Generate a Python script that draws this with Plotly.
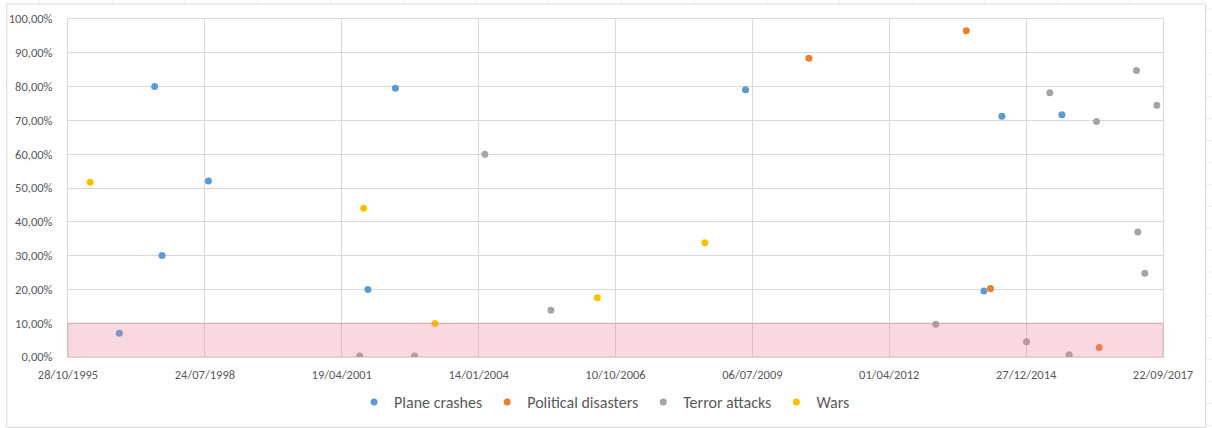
import plotly.graph_objects as go

# Event dates and scores per category
plane_dates = ["1997-07-22", "1997-09-14", "1998-08-19", "2002-05-16", "2001-10-27",
               "2009-05-17", "2014-02-22", "2014-07-03", "2015-09-14", "1996-11-06"]
plane_vals = [0.80, 0.30, 0.521, 0.795, 0.20, 0.791, 0.195, 0.712, 0.717, 0.07]

political_dates = ["2010-08-23", "2013-10-16", "2014-04-11", "2016-06-13"]
political_vals = [0.884, 0.965, 0.203, 0.028]

terror_dates = ["2004-02-29", "2005-06-25", "2001-08-28", "2002-10-03", "2013-03-07",
                "2014-12-30", "2015-11-07", "2015-06-18", "2016-05-24", "2017-03-12",
                "2017-08-08", "2017-03-22", "2017-05-12"]
terror_vals = [0.60, 0.138, 0.003, 0.003, 0.097, 0.045, 0.007, 0.782, 0.697, 0.848,
               0.745, 0.37, 0.248]

war_dates = ["1996-04-07", "2001-09-26", "2003-03-01", "2006-05-30", "2008-07-24"]
war_vals = [0.517, 0.44, 0.099, 0.175, 0.338]

series = [
    ("Plane crashes", plane_dates, plane_vals, "#5B9BD5"),
    ("Political disasters", political_dates, political_vals, "#ED7D31"),
    ("Terror attacks", terror_dates, terror_vals, "#A5A5A5"),
    ("Wars", war_dates, war_vals, "#FFC000"),
]

FONT = "Carlito, Lato, 'Open Sans', sans-serif"
TXT = "#595959"
GRID = "#d9d9d9"

fig = go.Figure()
for name, xs, ys, col in series:
    fig.add_trace(go.Scatter(
        x=xs, y=ys, mode="markers", name=name,
        marker=dict(color=col, size=7, line=dict(width=0)),
    ))

W, H = 1212, 428
ML, MR, MT, MB = 68.3, 48.7, 19, 71.3
pw, ph = W - ML - MR, H - MT - MB


def px_x(p):
    return (p - ML) / pw


def px_y(p):
    return (H - MB - p) / ph


shapes = [
    # low-score band
    dict(type="rect", xref="x domain", yref="y", x0=0, x1=1, y0=0, y1=0.10,
         fillcolor="rgba(232,128,150,0.30)", line=dict(color="rgba(205,120,140,0.45)", width=1),
         layer="above"),
    # chart frame
    dict(type="rect", xref="paper", yref="paper", x0=px_x(7), x1=px_x(1206),
         y0=px_y(427), y1=px_y(4), line=dict(color=GRID, width=1), layer="below"),
]

# sheet cell lines peeking around the frame
cx = 40.0
while cx < 1206:
    shapes.append(dict(type="line", xref="paper", yref="paper", x0=px_x(cx), x1=px_x(cx),
                       y0=px_y(0), y1=px_y(3.5), line=dict(color="#ececec", width=1)))
    cx += 72.7
cy = 9.0
while cy < 428:
    shapes.append(dict(type="line", xref="paper", yref="paper", x0=px_x(1206.5), x1=px_x(1212),
                       y0=px_y(cy), y1=px_y(cy), line=dict(color="#ececec", width=1)))
    cy += 21.9

fig.update_layout(
    width=W, height=H,
    margin=dict(l=ML, r=MR, t=MT, b=MB, pad=0, autoexpand=False),
    paper_bgcolor="white", plot_bgcolor="white",
    font=dict(family=FONT, color=TXT, size=12),
    separators=",.",
    showlegend=True,
    legend=dict(orientation="h", x=0.49, xanchor="center", y=px_y(401.7), yanchor="middle",
                font=dict(size=16, color=TXT), itemwidth=30, tracegroupgap=0,
                bgcolor="rgba(0,0,0,0)"),
    shapes=shapes,
)

fig.update_xaxes(
    type="date", range=["1995-10-28", "2017-09-22"],
    tick0="1995-10-28", dtick=86400000 * 1000, tickformat="%d/%m/%Y",
    showgrid=True, gridcolor=GRID, gridwidth=1,
    showline=True, linecolor=GRID, linewidth=1, mirror=True,
    ticks="", ticklabelstandoff=6, tickfont=dict(size=12.5, color=TXT),
    zeroline=False, automargin=False,
)
fig.update_yaxes(
    range=[0, 1], dtick=0.1, tickformat=".2%",
    showgrid=True, gridcolor=GRID, gridwidth=1,
    showline=True, linecolor=GRID, linewidth=1, mirror=True,
    ticks="", ticklabelstandoff=12, tickfont=dict(size=12.5, color=TXT),
    zeroline=False, automargin=False,
)

fig.write_html("out.html")
